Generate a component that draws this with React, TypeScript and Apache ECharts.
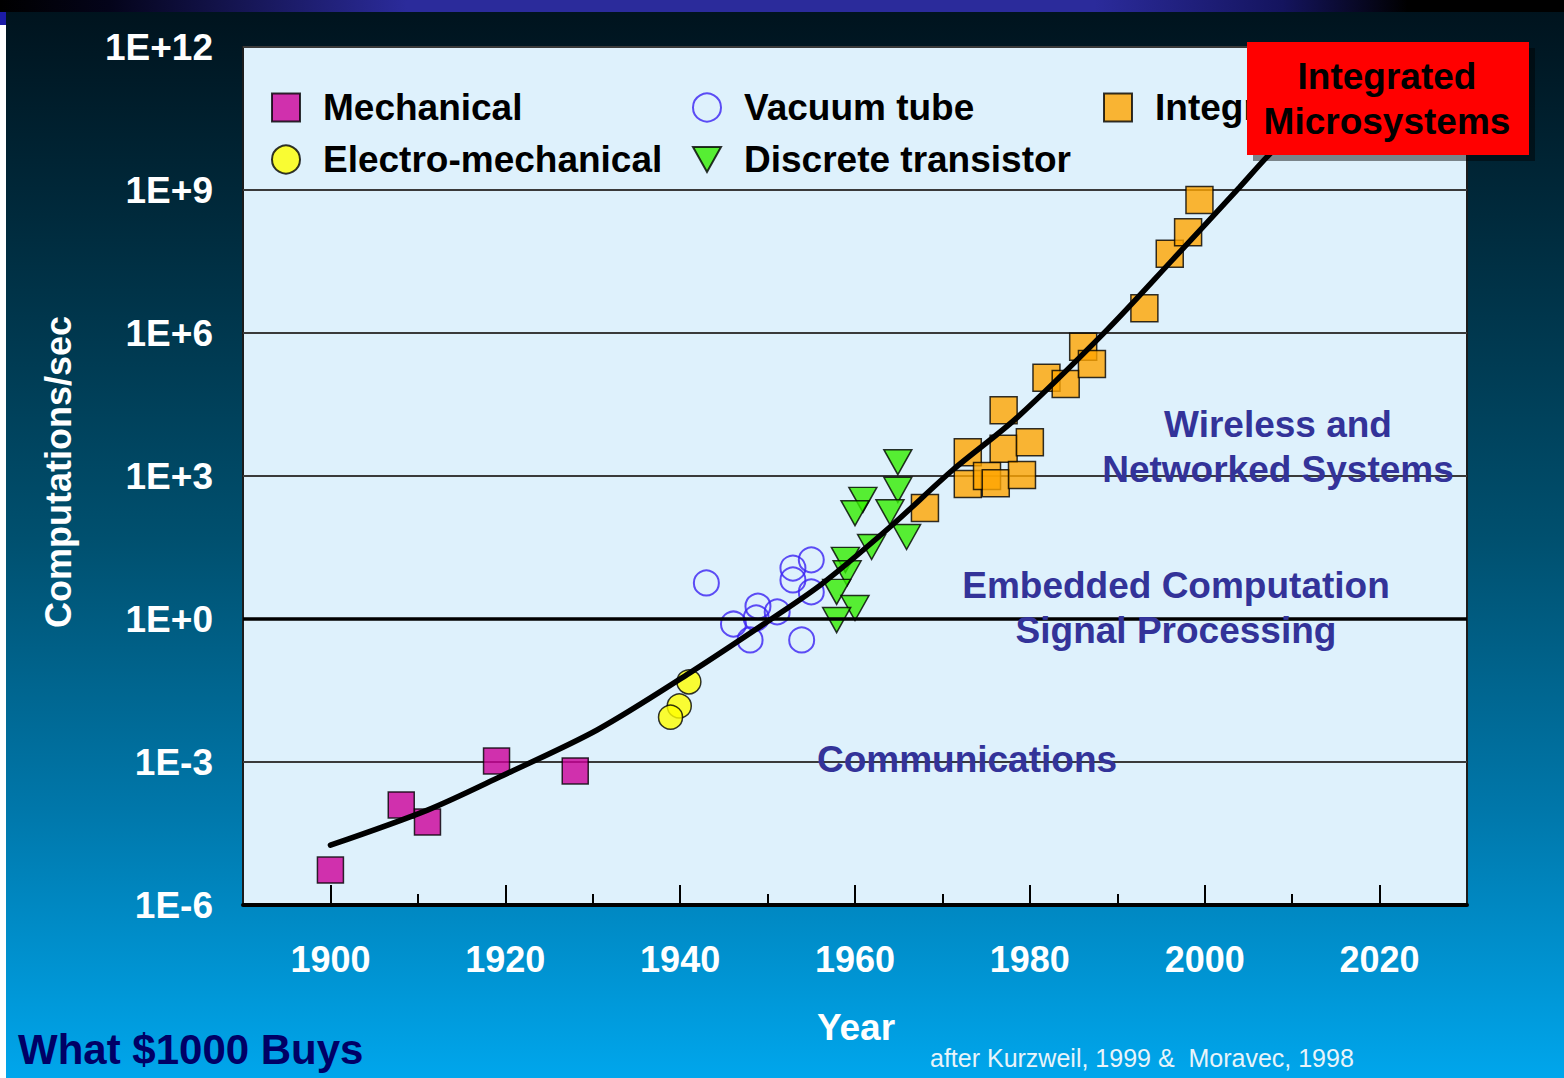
import React, { useEffect, useRef } from "react";
import * as echarts from "echarts";

// ---------- data ----------
const mechYears = [1900, 1908.1, 1911.1, 1919, 1928];
const mechValues = [5.4e-6, 1.26e-4, 5.5e-5, 1.05e-3, 6.5e-4];

const electroYears = [1941.0, 1939.9, 1938.9];
const electroValues = [4.8e-2, 1.5e-2, 8.7e-3];

const vacuumYears = [1943.0, 1946.1, 1948.0, 1948.9, 1948.7, 1951.1, 1952.9, 1952.9, 1955.0, 1955.0, 1953.9];
const vacuumValues = [5.7, 0.785, 0.363, 1.86, 1.05, 1.41, 11.7, 6.6, 17.4, 3.7, 0.363];

const transistorYears = [1964.9, 1964.9, 1960.9, 1960.0, 1964.0, 1965.9, 1961.9, 1958.9, 1959.1, 1957.9, 1960.0, 1957.9];
const transistorValues = [1950, 513, 316, 166, 174, 52.5, 32.4, 17.4, 9.1, 3.7, 1.7, 0.95];

const icYears = [1968.0, 1972.9, 1972.9, 1975.1, 1976.1, 1977.0, 1977.0, 1979.1, 1980.0, 1981.9, 1984.1, 1986.1, 1987.1, 1993.1, 1996.0, 1998.1, 1999.4];
const icValues = [214, 3160, 676, 1000, 708, 24000, 3720, 1050, 5130, 115000, 85100, 513000, 224000, 3.3e6, 4.6e7, 1.3e8, 6.2e8];

const trendYears = [1900, 1911.1, 1919.4, 1930.5, 1941.1, 1950.6, 1956.3, 1964.0, 1971.2, 1978.5, 1988.8, 1996.3, 2004.0, 2007.1, 2010];
const trendValues = [1.8e-5, 9.8e-5, 4.9e-4, 4.7e-3, 7.4e-2, 1.05, 5.6, 85, 1350, 16600, 1.15e6, 3.4e7, 1.15e9, 4.9e9, 1.6e10];

const xMajorTicks = [1900, 1920, 1940, 1960, 1980, 2000, 2020];
const xMinorTicks = [1910, 1930, 1950, 1970, 1990, 2010];

const seriesNames = ["Mechanical", "Electro-mechanical", "Vacuum tube", "Discrete transistor", "Integrated circuit"];

const annotations = [
  { text: "Wireless and", x: 1278, y: 424 },
  { text: "Networked Systems", x: 1278, y: 469 },
  { text: "Embedded Computation", x: 1176, y: 585 },
  { text: "Signal Processing", x: 1176, y: 630 },
  { text: "Communications", x: 967, y: 759 },
];

const FONT = "'Liberation Sans', Arial, Helvetica, sans-serif";

function pairs(xs: number[], ys: number[]) {
  return xs.map((x, i) => [x, ys[i]]);
}

function expLabel(v: number) {
  const e = Math.round(Math.log10(v));
  return "1E" + (e >= 0 ? "+" : "-") + Math.abs(e);
}

export default function App() {
  const ref = useRef<HTMLDivElement>(null);

  useEffect(() => {
    document.body.style.margin = "0";
    document.body.style.overflow = "hidden";
    if (!ref.current) return;
    const chart = echarts.init(ref.current, null, { renderer: "svg" });

    const legendBase = {
      orient: "vertical",
      top: 89,
      itemWidth: 28,
      itemHeight: 28,
      itemGap: 15,
      padding: 0,
      selectedMode: false,
      formatter: (n: string) => `{t|${n}}`,
      textStyle: {
        rich: {
          t: { fontSize: 37, fontWeight: "bold", fontFamily: FONT, color: "#000", lineHeight: 40, padding: [0, 0, 0, 18] },
        },
      },
    };

    const markerBorder = { borderColor: "#000", borderWidth: 1.5 };

    const option: any = {
      animation: false,
      backgroundColor: new echarts.graphic.LinearGradient(0, 0, 0, 1, [
        { offset: 0, color: "#00121c" },
        { offset: 0.2, color: "#002a3c" },
        { offset: 0.5, color: "#00506f" },
        { offset: 0.75, color: "#0077aa" },
        { offset: 1, color: "#00a6ec" },
      ]),
      grid: {
        left: 243,
        top: 47,
        width: 1224,
        height: 858,
        show: true,
        backgroundColor: "#DEF1FC",
        borderColor: "#1c1c1c",
        borderWidth: 2,
      },
      legend: [
        { ...legendBase, left: 271, data: [seriesNames[0], seriesNames[1]] },
        {
          ...legendBase,
          left: 692,
          data: [seriesNames[2], { name: seriesNames[3], icon: "path://M0,0 L28,0 L14,25 Z" }],
        },
        { ...legendBase, left: 1103, data: [seriesNames[4]] },
      ],
      xAxis: [
        {
          type: "value",
          min: 1890,
          max: 2030,
          position: "bottom",
          axisLine: { show: true, onZero: false, lineStyle: { color: "#000", width: 4 } },
          axisTick: { show: true, inside: true, length: 20, customValues: xMajorTicks, lineStyle: { color: "#000", width: 2 } },
          axisLabel: {
            customValues: xMajorTicks,
            formatter: (v: number) => String(Math.round(v)),
            margin: 36,
            color: "#fff",
            fontSize: 36,
            fontWeight: "bold",
            fontFamily: FONT,
          },
          splitLine: { show: false },
        },
        {
          type: "value",
          min: 1890,
          max: 2030,
          position: "bottom",
          axisLine: { show: false },
          axisTick: { show: true, inside: true, length: 11, customValues: xMinorTicks, lineStyle: { color: "#000", width: 2 } },
          axisLabel: { show: false },
          splitLine: { show: false },
        },
      ],
      yAxis: {
        type: "log",
        logBase: 10,
        min: 1e-6,
        max: 1e12,
        interval: 3,
        axisLine: { show: false },
        axisTick: { show: false },
        axisLabel: {
          formatter: expLabel,
          margin: 30,
          color: "#fff",
          fontSize: 37,
          fontWeight: "bold",
          fontFamily: FONT,
        },
        splitLine: { show: true, lineStyle: { color: "#3a3a3a", width: 2 } },
      },
      series: [
        {
          name: "baseline",
          type: "line",
          data: [],
          z: 1,
          markLine: {
            silent: true,
            symbol: "none",
            label: { show: false },
            lineStyle: { color: "#000", width: 3.5, type: "solid" },
            data: [{ yAxis: 1 }],
          },
        },
        {
          name: seriesNames[0],
          type: "scatter",
          symbol: "rect",
          symbolSize: 26,
          itemStyle: { color: "#CC0099", ...markerBorder },
          data: pairs(mechYears, mechValues),
          z: 2,
        },
        {
          name: seriesNames[1],
          type: "scatter",
          symbol: "circle",
          symbolSize: 24,
          itemStyle: { color: "#FFFF00", ...markerBorder },
          data: pairs(electroYears, electroValues),
          z: 2,
        },
        {
          name: seriesNames[2],
          type: "scatter",
          symbol: "circle",
          symbolSize: 25,
          itemStyle: { color: "rgba(0,0,0,0)", borderColor: "#3a22f2", borderWidth: 2 },
          data: pairs(vacuumYears, vacuumValues),
          z: 2,
        },
        {
          name: seriesNames[3],
          type: "scatter",
          symbol: "triangle",
          symbolRotate: 180,
          symbolSize: [28, 25],
          itemStyle: { color: "#33EE00", ...markerBorder },
          data: pairs(transistorYears, transistorValues),
          z: 2,
        },
        {
          name: seriesNames[4],
          type: "scatter",
          symbol: "rect",
          symbolSize: 27,
          itemStyle: { color: "#FFA500", ...markerBorder },
          data: pairs(icYears, icValues),
          z: 2,
        },
        {
          name: "trend",
          type: "line",
          smooth: 0.3,
          showSymbol: false,
          symbol: "none",
          lineStyle: { color: "#000", width: 5.5, cap: "round" },
          data: pairs(trendYears, trendValues),
          z: 3,
        },
      ],
      graphic: [
        // top strip
        {
          type: "rect",
          shape: { x: 0, y: 0, width: 1564, height: 12 },
          style: {
            fill: new echarts.graphic.LinearGradient(0, 0, 1, 0, [
              { offset: 0, color: "#000000" },
              { offset: 0.07, color: "#04041a" },
              { offset: 0.26, color: "#2b2b9b" },
              { offset: 0.7, color: "#2b2b9b" },
              { offset: 0.82, color: "#14145e" },
              { offset: 0.9, color: "#000000" },
              { offset: 1, color: "#000000" },
            ]),
          },
          z: 100,
        },
        { type: "rect", shape: { x: 0, y: 12, width: 6, height: 13 }, style: { fill: "#1c1ca6" }, z: 100 },
        { type: "rect", shape: { x: 0, y: 25, width: 6, height: 1053 }, style: { fill: "#ffffff" }, z: 100 },
        // axis names and captions
        {
          type: "text",
          x: 58,
          y: 472,
          rotation: Math.PI / 2,
          style: {
            text: "Computations/sec",
            fill: "#fff",
            font: `bold 36px ${FONT}`,
            align: "center",
            verticalAlign: "middle",
          },
          z: 100,
        },
        {
          type: "text",
          x: 856,
          y: 1027,
          style: { text: "Year", fill: "#fff", font: `bold 37px ${FONT}`, align: "center", verticalAlign: "middle" },
          z: 100,
        },
        {
          type: "text",
          x: 18,
          y: 1049,
          style: { text: "What $1000 Buys", fill: "#000066", font: `bold 42px ${FONT}`, align: "left", verticalAlign: "middle" },
          z: 100,
        },
        {
          type: "text",
          x: 930,
          y: 1058,
          style: {
            text: "after Kurzweil, 1999 &  Moravec, 1998",
            fill: "#e8f4fa",
            font: `25px ${FONT}`,
            align: "left",
            verticalAlign: "middle",
          },
          z: 100,
        },
        ...annotations.map((a) => ({
          type: "text",
          x: a.x,
          y: a.y,
          style: { text: a.text, fill: "#333399", font: `bold 37px ${FONT}`, align: "center", verticalAlign: "middle" },
          z: 100,
        })),
        // red callout box with shadow
        { type: "rect", shape: { x: 1253, y: 48, width: 282, height: 113 }, style: { fill: "rgba(0,0,0,0.45)" }, z: 110 },
        { type: "rect", shape: { x: 1247, y: 42, width: 282, height: 113 }, style: { fill: "#FF0000" }, z: 111 },
        {
          type: "text",
          x: 1387,
          y: 76,
          style: { text: "Integrated", fill: "#000", font: `bold 37px ${FONT}`, align: "center", verticalAlign: "middle" },
          z: 112,
        },
        {
          type: "text",
          x: 1387,
          y: 121,
          style: { text: "Microsystems", fill: "#000", font: `bold 37px ${FONT}`, align: "center", verticalAlign: "middle" },
          z: 112,
        },
      ],
    };

    chart.setOption(option);
    return () => chart.dispose();
  }, []);

  return <div ref={ref} style={{ position: "absolute", left: 0, top: 0, width: 1564, height: 1078 }} />;
}
